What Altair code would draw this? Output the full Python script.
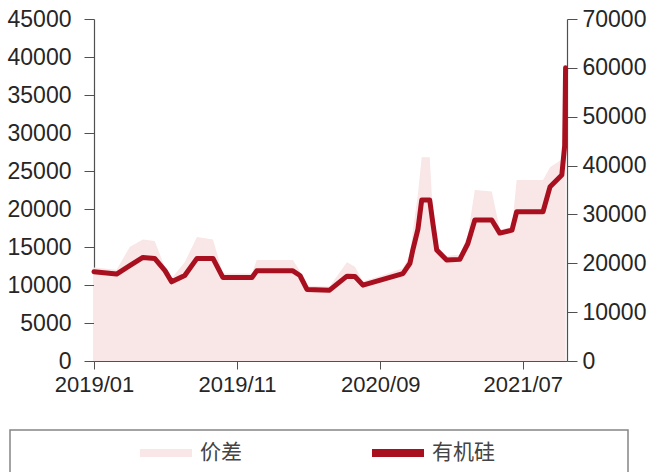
import altair as alt
import pandas as pd

# ---- data ----
dates = [
    "2019-01-01", "2019-02-18", "2019-03-18", "2019-04-15", "2019-05-10", "2019-06-01",
    "2019-06-15", "2019-07-13", "2019-08-08", "2019-09-11", "2019-10-02", "2019-12-03",
    "2019-12-13", "2020-02-28", "2020-03-14", "2020-03-29", "2020-05-16", "2020-06-22",
    "2020-07-09", "2020-07-26", "2020-09-01", "2020-10-19", "2020-11-03", "2020-11-09",
    "2020-11-20", "2020-11-28", "2020-12-15", "2020-12-22", "2020-12-30", "2021-01-20",
    "2021-02-17", "2021-03-06", "2021-03-21", "2021-04-26", "2021-05-13", "2021-06-08",
    "2021-06-18", "2021-08-13", "2021-08-28", "2021-09-22", "2021-09-28", "2021-09-30",
]
# 有机硅 price (right axis)
price = [
    18250, 17800, 19500, 21200, 21000, 18500,
    16200, 17500, 21000, 21000, 17100, 17100,
    18450, 18450, 17500, 14640, 14500, 17370,
    17300, 15520, 16550, 17900, 20000, 22700,
    27000, 32950, 32950, 28000, 22700, 20650,
    20800, 24000, 28850, 28850, 26180, 26800,
    30550, 30550, 35680, 38080, 44000, 60000,
]
# 价差 spread (left axis)
spread = [
    12300, 12000, 15000, 16000, 15800, 12300,
    10900, 13000, 16300, 16000, 11500, 11500,
    13300, 13300, 11800, 9900, 9800, 13000,
    12400, 10500, 11200, 12200, 14000, 17000,
    22000, 26800, 26800, 19000, 15200, 13800,
    14000, 16500, 22500, 22300, 17300, 17600,
    23800, 23800, 25500, 26500, 28500, 38000,
]
series_names = ["价差", "有机硅"]
x_ticks = [(2019, 1), (2019, 11), (2020, 9), (2021, 7)]
left_ticks = list(range(0, 45001, 5000))
right_ticks = list(range(0, 70001, 10000))

df = pd.DataFrame({
    "date": [d + "T00:00:00" for d in dates],
    "price": price,
    "spread": spread,
    "series": [series_names[0]] * len(dates),
})

PINK = "#f9e6e6"
RED = "#a8101f"
AXIS_C = "#505050"
TEXT_C = "#262626"
FONT = "Liberation Sans"

x_enc = alt.X(
    "date:T",
    scale=alt.Scale(domain=[alt.DateTime(year=2019, month=1, date=1),
                            alt.DateTime(year=2021, month=10, date=3)]),
    axis=alt.Axis(
        title=None,
        values=[alt.DateTime(year=y, month=m, date=1) for y, m in x_ticks],
        format="%Y/%m",
        labelFlush=False,
        labelOverlap=False,
        grid=False,
        tickSize=8,
        labelPadding=5,
        labelFontSize=22,
        labelFont=FONT,
        labelColor=TEXT_C,
        domainColor=AXIS_C,
        tickColor=AXIS_C,
        domainWidth=1.2,
    ),
)

area = alt.Chart(df).mark_area(interpolate="linear", opacity=1).encode(
    x=x_enc,
    y=alt.Y(
        "spread:Q",
        scale=alt.Scale(domain=[0, 45000], nice=False),
        axis=alt.Axis(
            title=None, orient="left", values=left_ticks, format="d",
            grid=False, tickSize=10, labelPadding=13, labelFontSize=23,
            labelFont=FONT, labelColor=TEXT_C, domainColor=AXIS_C,
            tickColor=AXIS_C, domainWidth=1.2,
        ),
    ),
    color=alt.Color(
        "series:N",
        scale=alt.Scale(domain=series_names, range=[PINK, RED]),
        legend=alt.Legend(
            title=None, orient="none", legendX=46, legendY=408,
            direction="horizontal",
            symbolType="M-1,-0.15L1,-0.15L1,0.15L-1,0.15Z",
            symbolSize=2704, symbolStrokeWidth=0, symbolOpacity=1,
            labelFont="Noto Sans CJK SC", labelFontSize=21,
            labelColor="#444444", labelOffset=8, columnPadding=130,
            padding=0,
        ),
    ),
)

line = alt.Chart(df).mark_line(
    color=RED, strokeWidth=5, strokeJoin="round", strokeCap="round"
).encode(
    x=x_enc,
    y=alt.Y(
        "price:Q",
        scale=alt.Scale(domain=[0, 70000], nice=False),
        axis=alt.Axis(
            title=None, orient="right", values=right_ticks, format="d",
            grid=False, tickSize=10, labelPadding=5, labelFontSize=23,
            labelFont=FONT, labelColor=TEXT_C, domainColor=AXIS_C,
            tickColor=AXIS_C, domainWidth=1.2,
        ),
    ),
)

frame = alt.Chart(pd.DataFrame({"k": [0]})).mark_rect(
    fill="#ffffff", fillOpacity=0, stroke="#858585", strokeWidth=1.5
).encode(
    x=alt.value(-84), x2=alt.value(534), y=alt.value(411), y2=alt.value(480)
)

chart = alt.layer(frame, area, line).resolve_scale(y="independent").properties(
    width=473,
    height=342,
    autosize=alt.AutoSizeParams(type="none"),
    padding={"left": 94, "top": 19, "right": 85, "bottom": 111},
    background="white",
).configure_view(strokeWidth=0)

chart.save("out.html", embed_options={"renderer": "svg", "actions": False})
